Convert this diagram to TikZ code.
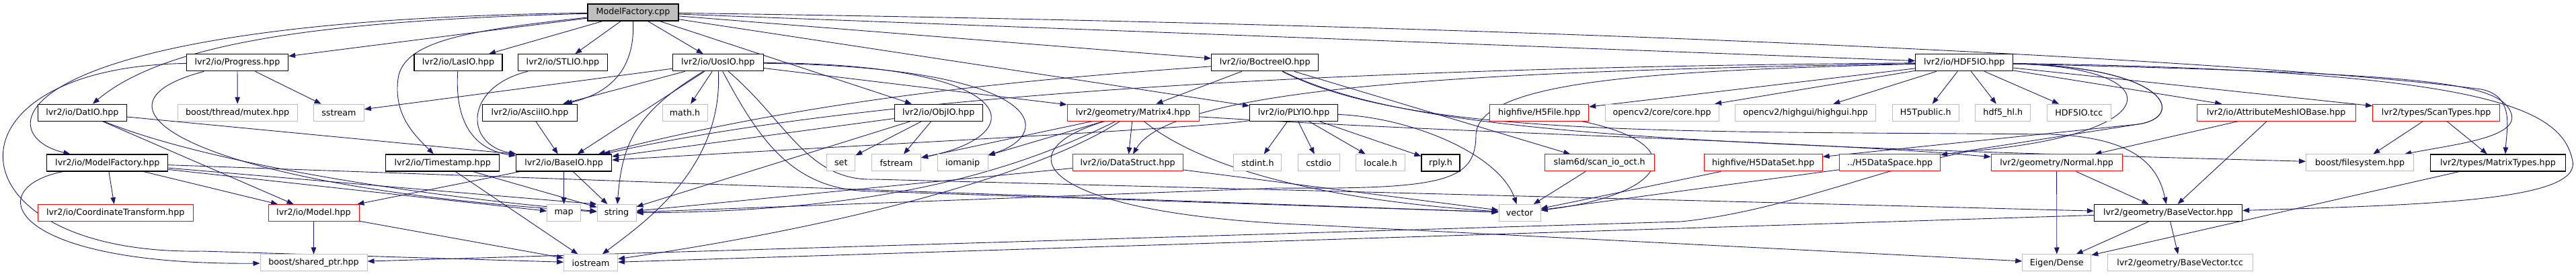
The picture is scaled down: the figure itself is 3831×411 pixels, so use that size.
\documentclass[tikz,border=0pt]{standalone}
\usepackage{fontspec}
\newfontfamily\graphfont{DejaVu Sans}
\usepackage{tikz}
\usetikzlibrary{arrows.meta}
\definecolor{edgecol}{RGB}{25,25,112}
\definecolor{syscol}{RGB}{191,191,191}
\pgfdeclarelayer{edges}
\pgfsetlayers{edges,main}

\begin{document}
\begin{tikzpicture}[
    x=1pt, y=-1pt,
    hdr/.style={draw=black, line width=1.2pt, fill=white, minimum height=25pt, inner sep=0pt, font=\graphfont\fontsize{12.7}{15}\selectfont},
    sys-hdr/.style={hdr, draw=syscol, line width=1pt},
    cut-hdr/.style={hdr, draw=red, line width=1pt},
    src-file/.style={hdr, fill=syscol},
    inc/.style={draw=edgecol, line width=0.9pt, -{Triangle[length=10pt, width=7.5pt]}}
  ]

  \useasboundingbox (0,0) rectangle (3831,411);

  \node[src-file, minimum width=135pt] (mfcpp) at (941.5,18.5) {ModelFactory.cpp};

  \node[hdr, minimum width=151pt] (progress) at (353,93.3) {lvr2/io/Progress.hpp};
  \node[hdr, minimum width=131pt] (lasio) at (681.5,93.3) {lvr2/io/LasIO.hpp};
  \node[hdr, minimum width=133pt] (stlio) at (837,93.3) {lvr2/io/STLIO.hpp};
  \node[hdr, minimum width=135pt] (uosio) at (1067.8,93.3) {lvr2/io/UosIO.hpp};
  \node[hdr, minimum width=159pt] (boctreeio) at (1881.2,93.3) {lvr2/io/BoctreeIO.hpp};
  \node[hdr, minimum width=145pt] (hdfio) at (2921.3,93.3) {lvr2/io/HDF5IO.hpp};

  \node[hdr, minimum width=132pt] (datio) at (122.4,167.7) {lvr2/io/DatIO.hpp};
  \node[sys-hdr, minimum width=178pt] (mutex) at (353.2,167.7) {boost/thread/mutex.hpp};
  \node[sys-hdr, minimum width=75pt] (sstream) at (503.9,167.7) {sstream};
  \node[hdr, minimum width=141pt] (asciiio) at (788,167.7) {lvr2/io/AsciiIO.hpp};
  \node[sys-hdr, minimum width=67pt] (mathh) at (1018.5,167.7) {math.h};
  \node[hdr, minimum width=131pt] (objio) at (1395.7,167.7) {lvr2/io/ObjIO.hpp};
  \node[cut-hdr, minimum width=196pt] (matrix4) at (1685.1,167.7) {lvr2/geometry/Matrix4.hpp};
  \node[hdr, minimum width=131pt] (plyio) at (1924.1,167.7) {lvr2/io/PLYIO.hpp};
  \node[cut-hdr, minimum width=147pt] (h5file) at (2289.2,167.7) {highfive/H5File.hpp};
  \node[sys-hdr, minimum width=169pt] (cvcore) at (2471.6,167.7) {opencv2/core/core.hpp};
  \node[sys-hdr, minimum width=209pt] (highgui) at (2685.1,167.7) {opencv2/highgui/highgui.hpp};
  \node[sys-hdr, minimum width=99pt] (h5tpublic) at (2863.7,167.7) {H5Tpublic.h};
  \node[sys-hdr, minimum width=82pt] (hdfhl) at (2978.8,167.7) {hdf5\_hl.h};
  \node[sys-hdr, minimum width=95pt] (hdftcc) at (3091.8,167.7) {HDF5IO.tcc};
  \node[cut-hdr, minimum width=236pt] (meshio) at (3385.1,167.7) {lvr2/io/AttributeMeshIOBase.hpp};
  \node[cut-hdr, minimum width=189pt] (scantypes) at (3623.1,167.7) {lvr2/types/ScanTypes.hpp};

  \node[hdr, minimum width=180pt] (mfhpp) at (159.8,242.5) {lvr2/io/ModelFactory.hpp};
  \node[hdr, minimum width=169pt] (timestamp) at (658.2,242.5) {lvr2/io/Timestamp.hpp};
  \node[hdr, minimum width=142pt] (baseio) at (838.6,242.5) {lvr2/io/BaseIO.hpp};
  \node[sys-hdr, minimum width=42pt] (stdset) at (1250.8,242.5) {set};
  \node[sys-hdr, minimum width=73pt] (fstream) at (1333,242.5) {fstream};
  \node[sys-hdr, minimum width=75pt] (iomanip) at (1431.7,242.5) {iomanip};
  \node[cut-hdr, minimum width=164pt] (datastruct) at (1677.2,242.5) {lvr2/io/DataStruct.hpp};
  \node[sys-hdr, minimum width=71pt] (stdint) at (1870.4,242.5) {stdint.h};
  \node[sys-hdr, minimum width=62pt] (cstdio) at (1961.2,242.5) {cstdio};
  \node[sys-hdr, minimum width=73pt] (localeh) at (2053.2,242.5) {locale.h};
  \node[hdr, minimum width=57pt] (rply) at (2142.5,242.5) {rply.h};
  \node[cut-hdr, minimum width=163pt] (scanio) at (2378.6,242.5) {slam6d/scan\_io\_oct.h};
  \node[cut-hdr, minimum width=176pt] (h5dataset) at (2622.2,242.5) {highfive/H5DataSet.hpp};
  \node[cut-hdr, minimum width=150pt] (h5dataspace) at (2810.6,242.5) {../H5DataSpace.hpp};
  \node[cut-hdr, minimum width=195pt] (normal) at (3058.6,242.5) {lvr2/geometry/Normal.hpp};
  \node[sys-hdr, minimum width=160pt] (filesystem) at (3509.6,242.5) {boost/filesystem.hpp};
  \node[hdr, minimum width=201pt] (matrixtypes) at (3714.9,242.5) {lvr2/types/MatrixTypes.hpp};

  \node[cut-hdr, minimum width=231pt] (coordtf) at (171.8,317) {lvr2/io/CoordinateTransform.hpp};
  \node[cut-hdr, minimum width=135pt] (model) at (466.5,317) {lvr2/io/Model.hpp};
  \node[sys-hdr, minimum width=50pt] (stdmap) at (838.6,317) {map};
  \node[sys-hdr, minimum width=58pt] (stdstring) at (917,317) {string};
  \node[sys-hdr, minimum width=62pt] (stdvector) at (2260,317) {vector};
  \node[hdr, minimum width=220pt] (basevector) at (3224.5,317) {lvr2/geometry/BaseVector.hpp};

  \node[sys-hdr, minimum width=159pt] (sharedptr) at (466.5,391.5) {boost/shared\_ptr.hpp};
  \node[sys-hdr, minimum width=80pt] (iostream) at (878.6,391.5) {iostream};
  \node[sys-hdr, minimum width=102pt] (eigen) at (3058.8,391.5) {Eigen/Dense};
  \node[sys-hdr, minimum width=216pt] (basevectcc) at (3242.2,391.5) {lvr2/geometry/BaseVector.tcc};

  \begin{pgfonlayer}{edges}
  \foreach \src/\dst in {mfcpp/progress, mfcpp/lasio, mfcpp/stlio, mfcpp/uosio, mfcpp/objio,
      mfcpp/plyio, mfcpp/boctreeio, mfcpp/hdfio, progress/mutex, progress/sstream, datio/model,
      mfhpp/coordtf, mfhpp/model, mfhpp/stdmap, mfhpp/stdvector, timestamp/iostream,
      timestamp/stdstring, asciiio/baseio, uosio/sstream, uosio/asciiio, uosio/baseio, uosio/mathh,
      uosio/matrix4, objio/baseio, objio/stdset, objio/fstream, objio/stdstring, matrix4/fstream,
      matrix4/iomanip, matrix4/datastruct, datastruct/stdvector, datastruct/stdstring, plyio/stdint,
      plyio/cstdio, plyio/localeh, plyio/rply, boctreeio/matrix4, boctreeio/scanio, hdfio/h5file,
      hdfio/cvcore, hdfio/highgui, hdfio/h5tpublic, hdfio/hdfhl, hdfio/hdftcc, hdfio/meshio,
      hdfio/scantypes, h5dataset/stdvector, h5dataspace/stdvector, scanio/stdvector, meshio/normal,
      meshio/basevector, scantypes/filesystem, scantypes/matrixtypes, normal/basevector,
      normal/eigen, basevector/eigen, basevector/basevectcc, basevector/iostream,
      matrixtypes/eigen, baseio/stdmap, baseio/stdstring, baseio/model, model/sharedptr,
      model/iostream}
    \draw[inc] (\src) -- (\dst);

  \draw[inc] (datio) -- (baseio.north west);
  \draw[inc] (mfhpp) -- (stdstring.north west);

  \draw[inc] (mfcpp) .. controls (500,30) and (250,60) .. (datio);
  \draw[inc] (mfcpp) .. controls (0,30) and (-20,200) .. (mfhpp);
  \draw[inc] (mfcpp) .. controls (700,45) and (600,60) .. (592,117) .. controls (585,170) and (615,200) .. (timestamp);
  \draw[inc] (mfcpp.south) .. controls (945,110) and (900,140) .. (asciiio);
  \draw[inc] (mfcpp) .. controls (2500,40) and (3450,100) .. (3690,133) .. controls (3740,143) and (3728,190) .. ([xshift=11pt]matrixtypes.north);

  \draw[inc] (progress) .. controls (100,160) and (300,280) .. (stdstring);
  \draw[inc] (progress) .. controls (-100,100) and (-80,380) .. (300,374) -- (iostream);
  \draw[inc] (datio) .. controls (300,240) and (600,290) .. (stdstring);
  \draw[inc] (mfhpp) .. controls (-30,280) and (10,395) .. (sharedptr);
  \draw[inc] (lasio) .. controls (675,200) and (720,225) .. (baseio);
  \draw[inc] (stlio) .. controls (690,130) and (690,215) .. (baseio);

  \draw[inc] (uosio) .. controls (940,170) and (925,220) .. (stdstring);
  \draw[inc] (uosio) .. controls (1075,250) and (960,330) .. (iostream);
  \draw[inc] (uosio) .. controls (1130,210) and (1180,285) .. (1300,285) -- (stdvector);
  \draw[inc] (uosio) .. controls (1170,180) and (1200,270) .. (1300,267) -- (basevector);
  \draw[inc] (uosio) .. controls (1520,95) and (1540,200) .. (fstream);
  \draw[inc] (uosio) .. controls (1560,100) and (1570,200) .. (iomanip);

  \draw[inc] (boctreeio) .. controls (1500,120) and (1200,150) .. (baseio);
  \draw[inc] (plyio) .. controls (1800,190) and (1300,215) .. (baseio);
  \draw[inc] (hdfio) .. controls (2000,100) and (1300,140) .. (baseio);

  \draw[inc] (matrix4) .. controls (1500,260) and (1300,315) .. (stdstring);
  \draw[inc] (matrix4) .. controls (1560,250) and (1300,330) .. (iostream);
  \draw[inc] (matrix4) .. controls (1800,260) and (2000,300) .. (stdvector);
  \draw[inc] (matrix4) .. controls (1480,230) and (1560,320) .. (1950,335) -- (eigen);
  \draw[inc] (matrix4) .. controls (2200,200) and (2700,210) .. (normal);

  \draw[inc] (plyio) .. controls (2100,175) and (2230,230) .. (stdvector);
  \draw[inc] (boctreeio) .. controls (2100,200) and (2500,215) .. (filesystem);
  \draw[inc] (boctreeio) .. controls (2100,205) and (2500,195) .. (3050,200) .. controls (3180,205) and (3210,250) .. (basevector);
  \draw[inc] (h5file) .. controls (2520,215) and (2480,290) .. (stdvector);

  \draw[inc] (hdfio) .. controls (2300,105) and (1750,120) .. (datastruct);
  \draw[inc] (hdfio) .. controls (2500,105) and (2200,115) .. (2195,200) .. controls (2195,270) and (2150,282) .. (1900,280) -- (stdstring);
  \draw[inc] (hdfio) .. controls (3600,110) and (3720,120) .. (3735,170) .. controls (3745,205) and (3650,215) .. (filesystem);
  \draw[inc] (hdfio) .. controls (3700,105) and (3810,160) .. (3826,240) .. controls (3838,300) and (3600,305) .. (basevector);
  \draw[inc] (hdfio) .. controls (3230,100) and (3250,175) .. (3180,185) -- (h5dataspace);
  \draw[inc] (hdfio) .. controls (3230,100) and (3250,175) .. (3180,185) -- (h5dataset);
  \draw[inc] (hdfio) .. controls (3230,100) and (3230,200) .. (2930,225) .. controls (2800,250) and (2650,315) .. (2500,330) -- (sharedptr);
  \end{pgfonlayer}

\end{tikzpicture}
\end{document}
